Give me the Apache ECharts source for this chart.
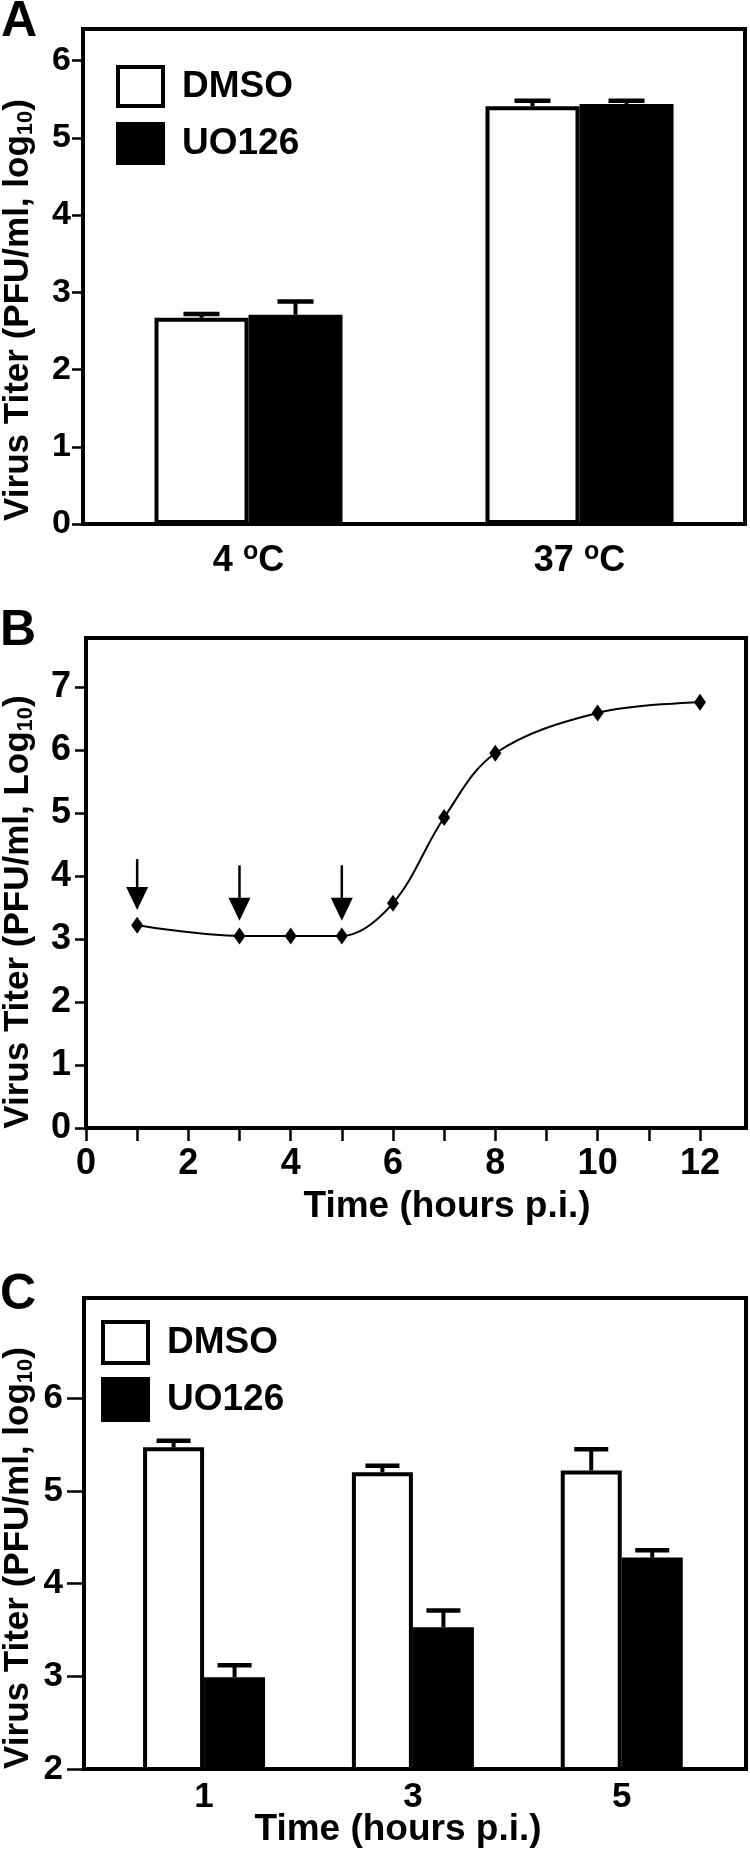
<!DOCTYPE html>
<html>
<head>
<meta charset="utf-8">
<script src="https://cdn.jsdelivr.net/npm/echarts@6/dist/echarts.min.js"></script>
<style>
html, body { margin: 0; padding: 0; background: #fff; }
#chart { width: 750px; height: 1850px; }
</style>
</head>
<body>
<div id="chart"></div>
<script>
// panel A: titer after binding at 4 / 37 oC
const tempCategories = ['4 {sup|o}C', '37 {sup|o}C'];
const tempDmso = [2.67, 5.41];
const tempDmsoErr = [0.05, 0.07];
const tempUo126 = [2.71, 5.44];
const tempUo126Err = [0.17, 0.04];
const tempTicks = [0, 1, 2, 3, 4, 5, 6];

// panel B: one-step growth curve
const growthHours = [1, 3, 4, 5, 6, 7, 8, 10, 12];
const growthTiter = [3.22, 3.05, 3.05, 3.05, 3.57, 4.93, 5.95, 6.59, 6.76];
const growthXTicks = [0, 1, 2, 3, 4, 5, 6, 7, 8, 9, 10, 11, 12];
const growthXLabels = [0, 2, 4, 6, 8, 10, 12];
const growthYTicks = [0, 1, 2, 3, 4, 5, 6, 7];
// arrows: hour, shaft top, tip
const arrowHours = [1, 3, 5];
const arrowTop = [4.27, 4.17, 4.17];
const arrowTip = [3.46, 3.29, 3.29];

// panel C: drug added at 1, 3, 5 h p.i.
const timeHours = [1, 3, 5];
const timeDmso = [5.47, 5.20, 5.22];
const timeDmsoErr = [0.07, 0.07, 0.23];
const timeUo126 = [2.99, 3.53, 4.28];
const timeUo126Err = [0.13, 0.18, 0.08];
const timeTicks = [2, 3, 4, 5, 6];

const FONT = '"Liberation Sans", Arial, sans-serif';

function errorBar(offset, capHalf) {
	return function (params, api) {
		let base = api.coord([api.value(0), api.value(1)]);
		let top = api.coord([api.value(0), api.value(2)]);
		let x = base[0] + offset;
		return {
			type: 'group',
			children: [
				{ type: 'line', shape: { x1: x, y1: base[1], x2: x, y2: top[1] }, style: { stroke: '#000', lineWidth: 4 } },
				{ type: 'line', shape: { x1: x - capHalf, y1: top[1], x2: x + capHalf, y2: top[1] }, style: { stroke: '#000', lineWidth: 4.5 } }
			]
		};
	};
}

function yAxisStyle(ticks, tickLen, margin, fontSize) {
	return {
		axisLine: { show: true, onZero: false, lineStyle: { color: '#000', width: 4 } },
		axisTick: { show: true, length: tickLen, customValues: ticks, lineStyle: { color: '#000', width: 2.5 } },
		axisLabel: { customValues: ticks, margin: margin, color: '#000', fontSize: fontSize, fontWeight: 'bold', fontFamily: FONT },
		splitLine: { show: false }
	};
}

const dmsoStyle = { color: '#fff', borderColor: '#000', borderWidth: 4 };
const uoStyle = { color: '#000', borderColor: '#000', borderWidth: 4 };
const supRich = {
	sup: { fontSize: 25, fontWeight: 'bold', fontFamily: FONT, color: '#000', padding: [0, 0, 18, 0] }
};
const subRich = {
	sub: { fontSize: 22, fontWeight: 'bold', fontFamily: FONT, color: '#000', padding: [16, 0, 0, 0] }
};

function legendFor(left, top, h, gap) {
	return {
		orient: 'vertical',
		left: left,
		top: top,
		icon: 'rect',
		itemWidth: 45,
		itemHeight: h,
		itemGap: gap,
		selectedMode: false,
		data: ['DMSO', 'UO126'],
		itemStyle: { borderWidth: 4, borderColor: '#000' },
		textStyle: { fontSize: 37, fontWeight: 'bold', fontFamily: FONT, color: '#000', padding: [0, 0, 0, 14] }
	};
}

function yName(x, y, text) {
	return {
		type: 'text',
		x: x,
		y: y,
		rotation: Math.PI / 2,
		style: {
			text: text,
			fontSize: 35,
			fontWeight: 'bold',
			fontFamily: FONT,
			fill: '#000',
			align: 'center',
			verticalAlign: 'middle',
			rich: subRich
		}
	};
}

function plainText(x, y, text, size, align) {
	return {
		type: 'text',
		x: x,
		y: y,
		style: { text: text, fontSize: size, fontWeight: 'bold', fontFamily: FONT, fill: '#000', align: align, verticalAlign: 'middle' }
	};
}

let option = {
	backgroundColor: '#fff',
	animation: false,
	grid: [
		{ left: 83, top: 29, width: 662, height: 495, show: true, borderColor: '#000', borderWidth: 4 },
		{ left: 86, top: 638, width: 660, height: 490, show: true, borderColor: '#000', borderWidth: 4 },
		{ left: 84, top: 1298, width: 662, height: 471, show: true, borderColor: '#000', borderWidth: 4 }
	],
	legend: [legendFor(111, 60, 39, 14), legendFor(96, 1315, 41, 12)],
	xAxis: [
		{
			gridIndex: 0,
			type: 'category',
			data: tempCategories,
			axisLine: { onZero: false, lineStyle: { color: '#000', width: 4 } },
			axisTick: { show: false },
			axisLabel: { margin: 16, color: '#000', fontSize: 36, fontWeight: 'bold', fontFamily: FONT, rich: supRich }
		},
		{
			gridIndex: 1,
			type: 'value',
			min: 0,
			max: 12.9,
			axisLine: { onZero: false, lineStyle: { color: '#000', width: 4 } },
			axisTick: { show: true, length: 13, customValues: growthXTicks, lineStyle: { color: '#000', width: 2.5 } },
			axisLabel: { customValues: growthXLabels, margin: 18, color: '#000', fontSize: 36, fontWeight: 'bold', fontFamily: FONT },
			splitLine: { show: false }
		},
		{
			gridIndex: 2,
			type: 'value',
			min: -0.15,
			max: 6.19,
			axisLine: { onZero: false, lineStyle: { color: '#000', width: 4 } },
			axisTick: { show: false },
			axisLabel: { customValues: timeHours, margin: 11, color: '#000', fontSize: 35, fontWeight: 'bold', fontFamily: FONT },
			splitLine: { show: false }
		}
	],
	yAxis: [
		Object.assign({ gridIndex: 0, type: 'value', min: 0, max: 6.41 }, yAxisStyle(tempTicks, 11, 12, 34)),
		Object.assign({ gridIndex: 1, type: 'value', min: 0, max: 7.78 }, yAxisStyle(growthYTicks, 11, 15, 36)),
		Object.assign({ gridIndex: 2, type: 'value', min: 2, max: 7.08 }, yAxisStyle(timeTicks, 17, 21, 35))
	],
	graphic: [
		plainText(1, 22, 'A', 50, 'left'),
		plainText(0, 631, 'B', 50, 'left'),
		plainText(0, 1295, 'C', 50, 'left'),
		yName(18, 310, 'Virus Titer (PFU/ml, log{sub|10})'),
		yName(18, 912, 'Virus Titer (PFU/ml, Log{sub|10})'),
		yName(18, 1558, 'Virus Titer (PFU/ml, log{sub|10})'),
		plainText(447, 1207, 'Time (hours p.i.)', 37, 'center'),
		plainText(398, 1830, 'Time (hours p.i.)', 37, 'center')
	],
	series: [
		// panel A
		{ name: 'DMSO', type: 'bar', xAxisIndex: 0, yAxisIndex: 0, data: tempDmso, barWidth: 94, barGap: '0%', itemStyle: dmsoStyle },
		{ name: 'UO126', type: 'bar', xAxisIndex: 0, yAxisIndex: 0, data: tempUo126, barWidth: 94, barGap: '0%', itemStyle: uoStyle },
		{ type: 'custom', xAxisIndex: 0, yAxisIndex: 0, z: 5, renderItem: errorBar(-47, 18), encode: { x: 0, y: [1, 2] }, data: tempDmso.map((v, i) => [i, v, v + tempDmsoErr[i]]) },
		{ type: 'custom', xAxisIndex: 0, yAxisIndex: 0, z: 5, renderItem: errorBar(47, 18), encode: { x: 0, y: [1, 2] }, data: tempUo126.map((v, i) => [i, v, v + tempUo126Err[i]]) },
		// panel B
		{
			type: 'line',
			xAxisIndex: 1,
			yAxisIndex: 1,
			data: growthHours.map((h, i) => [h, growthTiter[i]]),
			smooth: 0.35,
			symbol: 'diamond',
			symbolSize: [12, 17],
			itemStyle: { color: '#000' },
			lineStyle: { color: '#000', width: 2 }
		},
		{
			type: 'custom',
			xAxisIndex: 1,
			yAxisIndex: 1,
			z: 5,
			encode: { x: 0, y: [1, 2] },
			data: arrowHours.map((h, i) => [h, arrowTop[i], arrowTip[i]]),
			renderItem: function (params, api) {
				let top = api.coord([api.value(0), api.value(1)]);
				let tip = api.coord([api.value(0), api.value(2)]);
				return {
					type: 'group',
					children: [
						{ type: 'line', shape: { x1: top[0], y1: top[1], x2: tip[0], y2: tip[1] - 20 }, style: { stroke: '#000', lineWidth: 2.5 } },
						{ type: 'polygon', shape: { points: [[tip[0] - 11, tip[1] - 23], [tip[0] + 11, tip[1] - 23], [tip[0], tip[1]]] }, style: { fill: '#000' } }
					]
				};
			}
		},
		// panel C
		{ name: 'DMSO', type: 'bar', xAxisIndex: 2, yAxisIndex: 2, data: timeHours.map((h, i) => [h, timeDmso[i]]), barWidth: 61, barGap: '0%', itemStyle: dmsoStyle },
		{ name: 'UO126', type: 'bar', xAxisIndex: 2, yAxisIndex: 2, data: timeHours.map((h, i) => [h, timeUo126[i]]), barWidth: 61, barGap: '0%', itemStyle: uoStyle },
		{ type: 'custom', xAxisIndex: 2, yAxisIndex: 2, z: 5, renderItem: errorBar(-30.5, 17), encode: { x: 0, y: [1, 2] }, data: timeHours.map((h, i) => [h, timeDmso[i], timeDmso[i] + timeDmsoErr[i]]) },
		{ type: 'custom', xAxisIndex: 2, yAxisIndex: 2, z: 5, renderItem: errorBar(30.5, 17), encode: { x: 0, y: [1, 2] }, data: timeHours.map((h, i) => [h, timeUo126[i], timeUo126[i] + timeUo126Err[i]]) }
	]
};

let chart = echarts.init(document.getElementById('chart'));
chart.setOption(option);
</script>
</body>
</html>
